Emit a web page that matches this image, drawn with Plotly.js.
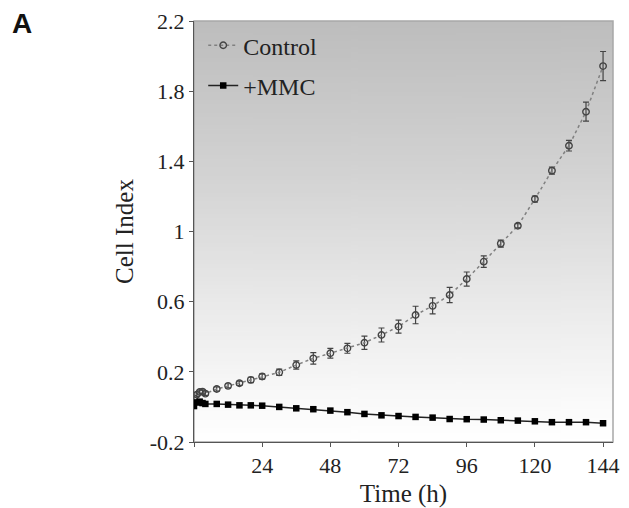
<!DOCTYPE html>
<html>
<head>
<meta charset="utf-8">
<script src="https://cdn.plot.ly/plotly-3.0.1.min.js"></script>
<style>html,body{margin:0;padding:0;background:#fff;}#chart{width:629px;height:508px;}</style>
</head>
<body>
<div id="chart"></div>
<script>
const time = [0,1,2,3,4,8,12,16,20,24,30,36,42,48,54,60,66,72,78,84,90,96,102,108,114,120,126,132,138,144];
const control = [0.05,0.07,0.085,0.087,0.076,0.102,0.120,0.135,0.154,0.173,0.197,0.239,0.277,0.306,0.334,0.366,0.410,0.458,0.524,0.576,0.638,0.729,0.828,0.931,1.033,1.185,1.347,1.489,1.683,1.943];
const controlErr = [0.01,0.01,0.01,0.01,0.01,0.012,0.012,0.012,0.015,0.015,0.018,0.023,0.033,0.028,0.028,0.038,0.04,0.037,0.05,0.046,0.043,0.04,0.033,0.02,0.012,0.017,0.02,0.03,0.054,0.083];
const mmc = [0.005,0.025,0.03,0.022,0.017,0.017,0.013,0.009,0.009,0.007,0.0,-0.008,-0.013,-0.021,-0.03,-0.04,-0.048,-0.052,-0.057,-0.061,-0.069,-0.07,-0.072,-0.076,-0.078,-0.082,-0.087,-0.087,-0.087,-0.093];
const xTickVals = [0,24,48,72,96,120,144];
const xTickText = ['','24','48','72','96','120','144'];
const yTickVals = [-0.2,0.2,0.6,1,1.4,1.8,2.2];
const yTickText = ['-0.2','0.2','0.6','1','1.4','1.8','2.2'];

// gradient background image
const cv = document.createElement('canvas');
cv.width = 4; cv.height = 200;
const ctx = cv.getContext('2d');
const g = ctx.createLinearGradient(0,0,0,200);
g.addColorStop(0,'#bdbdbd');
g.addColorStop(0.35,'#d2d2d2');
g.addColorStop(0.7,'#ececec');
g.addColorStop(0.88,'#f8f8f8');
g.addColorStop(1,'#ffffff');
ctx.fillStyle = g; ctx.fillRect(0,0,4,200);
const bgURL = cv.toDataURL('image/png');

const serif = 'Liberation Serif, Times New Roman, serif';

const traces = [
  {
    x: time, y: control, name: 'Control', type: 'scatter', mode: 'lines+markers',
    legendgroup: 'a',
    line: {color: '#808080', width: 1.5, dash: 'dot'},
    marker: {symbol: 'circle-open', size: 6.5, color: '#444', line: {width: 1.4, color: '#444'}},
    error_y: {type: 'data', array: controlErr, visible: true, color: '#444', thickness: 1.2, width: 3}
  },
  {
    x: time, y: mmc, name: '+MMC', type: 'scatter', mode: 'lines+markers',
    legendgroup: 'b',
    line: {color: '#222', width: 1.5},
    marker: {symbol: 'square', size: 6.5, color: '#000'}
  }
];

const layout = {
  width: 629, height: 508,
  margin: {l: 194, r: 16, t: 21, b: 66},
  paper_bgcolor: '#ffffff',
  plot_bgcolor: 'rgba(0,0,0,0)',
  font: {family: serif, size: 22, color: '#222'},
  showlegend: true,
  legend: {
    x: 0.022, y: 0.995, xanchor: 'left', yanchor: 'top',
    bgcolor: 'rgba(0,0,0,0)', font: {family: serif, size: 24, color: '#222'},
    traceorder: 'grouped', tracegroupgap: 6
  },
  xaxis: {
    range: [0, 147.5], showgrid: false, zeroline: false,
    showline: true, linecolor: '#555', linewidth: 1,
    ticks: 'outside', ticklen: 4, tickcolor: '#555',
    tickvals: xTickVals, ticktext: xTickText,
    tickfont: {family: serif, size: 22, color: '#222'},
    title: {text: 'Time (h)', font: {family: serif, size: 25, color: '#222'}, standoff: 10}
  },
  yaxis: {
    range: [-0.2, 2.2], showgrid: false, zeroline: false,
    showline: true, linecolor: '#555', linewidth: 1,
    ticks: 'outside', ticklen: 4, tickcolor: '#555',
    tickvals: yTickVals, ticktext: yTickText,
    tickfont: {family: serif, size: 22, color: '#222'},
    title: {text: 'Cell Index', font: {family: serif, size: 25, color: '#222'}, standoff: 9}
  },
  images: [{
    source: bgURL, xref: 'paper', yref: 'paper', x: 0, y: 1, sizex: 1, sizey: 1,
    sizing: 'stretch', xanchor: 'left', yanchor: 'top', layer: 'below'
  }],
  shapes: [{
    type: 'rect', xref: 'paper', yref: 'paper', x0: 0, x1: 1, y0: 0, y1: 1,
    line: {color: '#a8a8a8', width: 1.5}, layer: 'below'
  }],
  annotations: [{
    text: '<b>A</b>', xref: 'paper', yref: 'paper', x: -0.44, y: 1.035,
    xanchor: 'left', yanchor: 'top', showarrow: false,
    font: {family: 'Liberation Sans, Arial, sans-serif', size: 28, color: '#111'}
  }]
};

Plotly.newPlot('chart', traces, layout, {displayModeBar: false, staticPlot: true});
</script>
</body>
</html>
